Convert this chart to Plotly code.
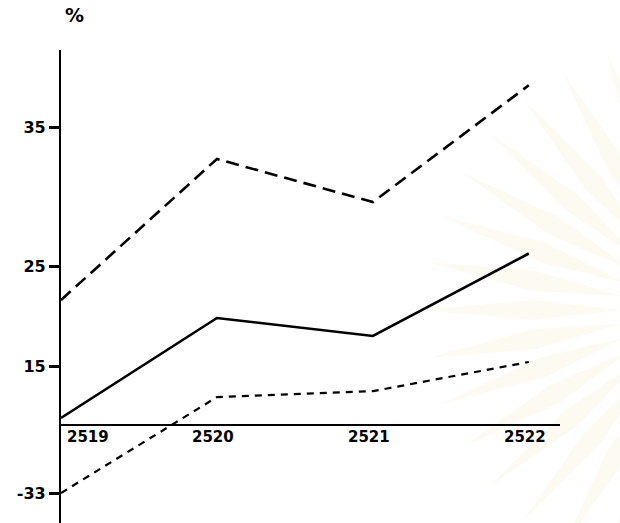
import numpy as np
import plotly.graph_objects as go

# Years on the horizontal axis
years = [2519, 2520, 2521, 2522]
year_labels = ["2519", "2520", "2521", "2522"]

# Percentages per year
highest = [21.6, 32.7, 29.6, 38.0]
average = [1.8, 19.8, 18.0, 25.9]
lowest = [-33.0, 7.1, 8.6, 15.4]

series_names = ["สูงสุด", "เฉลี่ย", "ต่ำสุด"]
y_tick_values = [35, 25, 15, -33]

# The vertical scale is drawn by hand with uneven spacing between ticks:
# percentage value -> distance along the axis (0 = horizontal axis)
scale_values = [-33, 0, 15, 25, 35, 45]
scale_positions = [-68, 0, 59, 159, 298, 437]


def to_axis(vals):
    return list(np.interp(vals, scale_values, scale_positions))


W, H = 620, 523
ML, MR, MT, MB = 61, 60, 50, 0

fig = go.Figure()

line_styles = [
    (highest, dict(color="black", width=2.6, dash="13px,7px")),
    (average, dict(color="black", width=2.6)),
    (lowest, dict(color="black", width=2.2, dash="7px,6px")),
]
for (vals, style), name in zip(line_styles, series_names):
    fig.add_trace(go.Scatter(
        x=years, y=to_axis(vals), mode="lines", line=style,
        name=name, showlegend=False, hoverinfo="skip",
    ))

thai_family = ("Noto Sans Thai, Noto Serif Thai, Noto Sans Thai Looped, Sarabun, "
               "Loma, Garuda, Kinnari, Norasi, Waree, Umpush, Sawasdee, TlwgTypo, "
               "Noto Sans, DejaVu Sans, Open Sans, Roboto, Lato, Inter, sans-serif")
num_font = dict(family="DejaVu Sans", size=15, color="black")
thai_font = dict(family=thai_family, size=21, color="black")

annotations = []
# year labels sit just under the horizontal axis
for yr, lab in zip(years, year_labels):
    annotations.append(dict(
        x=yr, y=0, xref="x", yref="y", text="<b>" + lab + "</b>", showarrow=False,
        xanchor="left" if yr == years[0] else "center", yanchor="top",
        xshift=4 if yr == years[0] else -4, yshift=-1, font=num_font,
    ))

# series names beside the line ends
label_y = [350, 195, 95]
for name, ly in zip(series_names, label_y):
    annotations.append(dict(
        x=2522.35, y=ly, xref="x", yref="y", text=name, showarrow=False,
        xanchor="center", yanchor="middle", font=thai_font,
    ))

annotations.append(dict(x=2522.4, y=0, xref="x", yref="y", text="ปี",
                        showarrow=False, xanchor="left", yanchor="bottom",
                        font=dict(family=thai_family, size=22, color="black")))
annotations.append(dict(x=0.0, y=1, xref="paper", yref="paper", yshift=22, xshift=2,
                        text="<b>%</b>", showarrow=False, xanchor="left",
                        yanchor="bottom", font=dict(family="DejaVu Sans", size=19, color="black")))

# faint seal rays printed behind the right-hand side of the page
shapes = []
cx, cy = 700.0, 310.0
for ang in np.arange(110, 252, 10):
    a = np.radians(ang)
    r0, r1, half = 80.0, 275.0, 0.06
    pts = []
    for r, da in [(r0, 0.0), (r0 + 0.45 * (r1 - r0), -half), (r1, 0.0),
                  (r0 + 0.45 * (r1 - r0), half)]:
        px = cx + r * np.cos(a + da)
        py = cy - r * np.sin(a + da)
        pts.append(((px - ML) / (W - ML - MR), (H - MB - py) / (H - MT - MB)))
    path = "M " + " L ".join(f"{x:.4f},{y:.4f}" for x, y in pts) + " Z"
    shapes.append(dict(type="path", path=path, xref="paper", yref="paper",
                       fillcolor="rgba(240,220,150,0.13)", line=dict(width=0),
                       layer="below"))

fig.update_layout(
    width=W, height=H,
    margin=dict(l=ML, r=MR, t=MT, b=MB),
    paper_bgcolor="white", plot_bgcolor="rgba(0,0,0,0)",
    annotations=annotations, shapes=shapes,
    xaxis=dict(range=[2519, 2522.2], showgrid=False, showticklabels=False,
               ticks="", showline=False, zeroline=False, fixedrange=True),
    yaxis=dict(range=[-98, 375], showgrid=False,
               tickvals=to_axis(y_tick_values),
               ticktext=["<b>" + str(v) + "</b>" for v in y_tick_values],
               ticks="outside", ticklen=10, tickwidth=2.5, tickcolor="black",
               tickfont=dict(family="DejaVu Sans", size=16, color="black"),
               showline=True, linewidth=2.2, linecolor="black",
               zeroline=True, zerolinewidth=2.2, zerolinecolor="black",
               fixedrange=True),
)

fig.write_html("out.html")
